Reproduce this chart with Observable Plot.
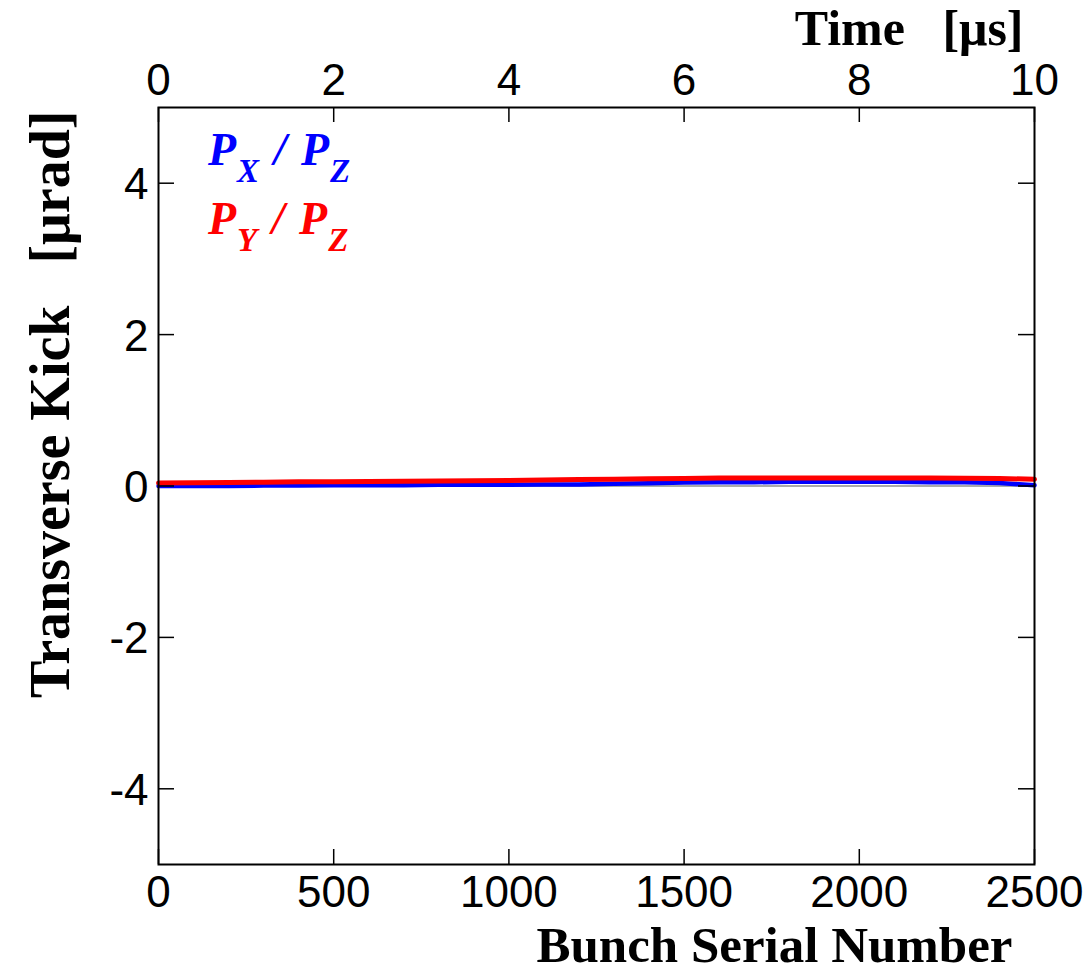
<!DOCTYPE html>
<html>
<head>
<meta charset="utf-8">
<script src="https://cdn.jsdelivr.net/npm/d3@7"></script>
<script src="https://cdn.jsdelivr.net/npm/@observablehq/plot@0.6"></script>
<style>
  html, body { margin: 0; padding: 0; background: #fff; }
  #wrap { position: relative; width: 1086px; height: 972px; }
  .leg { position: absolute; font-family: "Liberation Serif", serif; font-style: italic; font-weight: bold; font-size: 46px; line-height: 46px; white-space: pre; word-spacing: 3px; }
  .leg sub { font-size: 33px; vertical-align: -17px; line-height: 0; margin-left: 1px; }
</style>
</head>
<body>
<div id="wrap"></div>
<script>
// ---- data ----
const bunch = [0,100,200,300,400,500,600,700,800,900,1000,1100,1200,1300,1400,1500,1600,1700,1800,1900,2000,2100,2200,2300,2400,2500];
const pxOverPz = [0.000,0.000,0.000,0.005,0.005,0.010,0.010,0.010,0.015,0.015,0.015,0.020,0.020,0.030,0.035,0.045,0.050,0.050,0.055,0.055,0.055,0.055,0.050,0.050,0.040,0.010];
const pyOverPz = [0.040,0.042,0.045,0.050,0.055,0.057,0.060,0.062,0.065,0.068,0.072,0.078,0.085,0.090,0.095,0.100,0.105,0.105,0.105,0.105,0.105,0.105,0.105,0.102,0.098,0.090];
const xTicks = [0,500,1000,1500,2000,2500];
const yTicks = [-4,-2,0,2,4];
const bunchesPerMicrosecond = 250;
const xLabel = "Bunch Serial Number";
const topLabel = "Time\u00a0\u00a0\u00a0[\u03bcs]";
const yLabel = "Transverse Kick\u00a0\u00a0\u00a0[\u03bcrad]";
const seriesColors = {px: "#0000ff", py: "#ff0000"};

const W = 1086, H = 972;
const mL = 158, mR = 52, mT = 107, mB = 108;
const pw = W - mL - mR, ph = H - mT - mB;
const tick = 15;

const blue = bunch.map((b, i) => ({b, v: pxOverPz[i]}));
const red = bunch.map((b, i) => ({b, v: pyOverPz[i]}));

const titleFont = {fontFamily: "Liberation Serif", fontWeight: "bold", fill: "black"};

const plot = Plot.plot({
  width: W, height: H,
  marginLeft: mL, marginRight: mR, marginTop: mT, marginBottom: mB,
  x: {domain: [0, 2500]},
  y: {domain: [-5, 5]},
  style: {fontFamily: "Liberation Sans", fontSize: "44px", color: "black", background: "white", overflow: "visible"},
  marks: [
    Plot.ruleY([0], {stroke: "#aaaaaa", strokeWidth: 2}),
    Plot.lineY(blue, {x: "b", y: "v", stroke: seriesColors.px, strokeWidth: 4.5}),
    Plot.lineY(red, {x: "b", y: "v", stroke: seriesColors.py, strokeWidth: 5}),
    // inward ticks on all four sides
    Plot.tickX(xTicks, {x: d => d, insetTop: ph - tick, stroke: "black", strokeWidth: 1.5}),
    Plot.tickX(xTicks, {x: d => d, insetBottom: ph - tick, stroke: "black", strokeWidth: 1.5}),
    Plot.tickY(yTicks, {y: d => d, insetRight: pw - tick - 1, stroke: "black", strokeWidth: 1.5}),
    Plot.tickY(yTicks, {y: d => d, insetLeft: pw - tick - 1, stroke: "black", strokeWidth: 1.5}),
    Plot.axisX({anchor: "bottom", ticks: xTicks, tickSize: 0, tickPadding: 11, label: null, tickFormat: d => String(d)}),
    Plot.axisX({anchor: "top", ticks: xTicks, tickSize: 0, tickPadding: 13, label: null, tickFormat: d => String(d / bunchesPerMicrosecond)}),
    Plot.axisY({anchor: "left", ticks: yTicks, tickSize: 0, tickPadding: 10, label: null, dy: 2, tickFormat: d => String(d)}),
    Plot.frame({stroke: "black", strokeWidth: 2}),
    Plot.text([xLabel], {text: d => d, frameAnchor: "bottom-right", textAnchor: "end", lineAnchor: "bottom", dx: -22, dy: 97, fontSize: 51, ...titleFont}),
    Plot.text([topLabel], {text: d => d, frameAnchor: "top-right", textAnchor: "end", lineAnchor: "bottom", dx: -11, dy: -63, fontSize: 50, ...titleFont}),
    Plot.text([yLabel], {text: d => d, frameAnchor: "top-left", textAnchor: "end", lineAnchor: "bottom", rotate: -90, dx: -90, dy: 3, fontSize: 56, ...titleFont})
  ]
});

const wrap = document.getElementById("wrap");
wrap.appendChild(plot);

const legendItems = [
  {num: "P", numSub: "X", den: "P", denSub: "Z", color: seriesColors.px, top: 127},
  {num: "P", numSub: "Y", den: "P", denSub: "Z", color: seriesColors.py, top: 196}
];
for (const it of legendItems) {
  const d = document.createElement("div");
  d.className = "leg";
  d.style.left = "208px";
  d.style.top = it.top + "px";
  d.style.color = it.color;
  d.innerHTML = `${it.num}<sub>${it.numSub}</sub> / ${it.den}<sub>${it.denSub}</sub>`;
  wrap.appendChild(d);
}
</script>
</body>
</html>
